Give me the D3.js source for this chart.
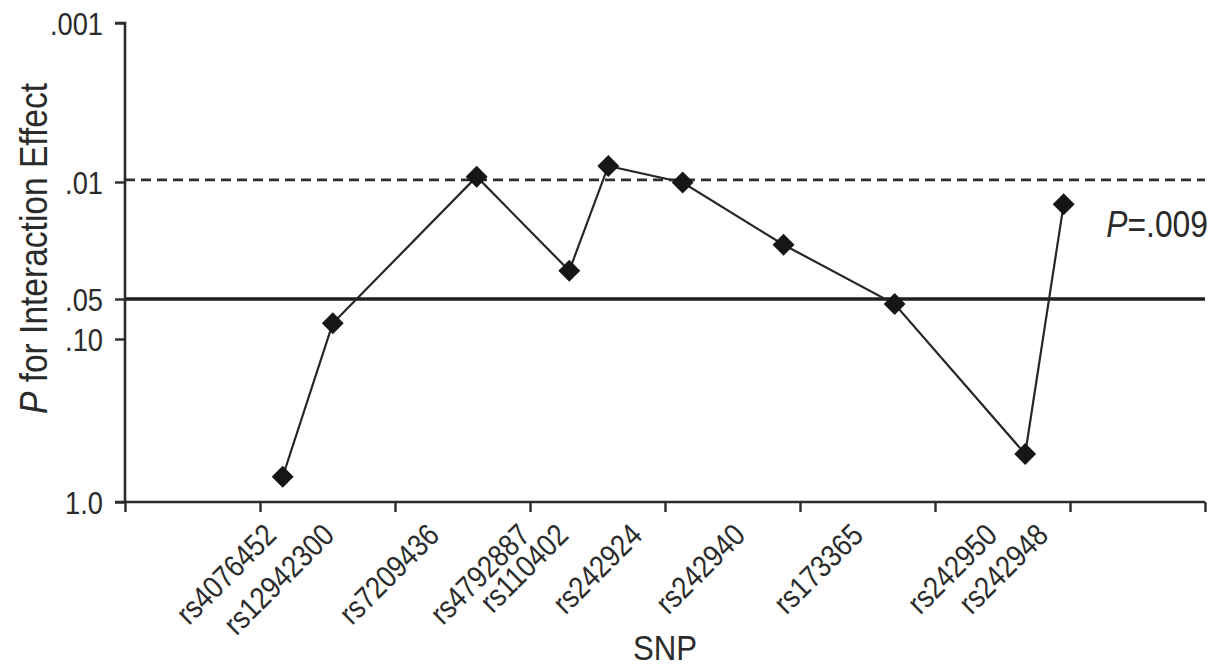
<!DOCTYPE html>
<html>
<head>
<meta charset="utf-8">
<script src="https://cdn.jsdelivr.net/npm/d3@7"></script>
<style>
  html, body { margin: 0; padding: 0; background: #fff; }
  svg { display: block; }
  text { font-family: "Liberation Sans", Arimo, Arial, sans-serif; fill: #2b2b2b; }
</style>
</head>
<body>
<svg id="chart" width="1223" height="668"></svg>
<script>
// ---- data ----
const snps = ["rs4076452", "rs12942300", "rs7209436", "rs4792887", "rs110402",
              "rs242924", "rs242940", "rs173365", "rs242950", "rs242948"];
// relative position of each SNP along the axis (axis units 0..8)
const snpPos = [1.168, 1.539, 2.605, 3.291, 3.580, 4.131, 4.878, 5.701, 6.668, 6.953];
// where each SNP name sits along the axis (axis units)
const labelPos = [1.119, 1.548, 2.326, 3.000, 3.281, 3.830, 4.593, 5.467, 6.459, 6.837];
// P value for interaction effect
const pValues = [0.700, 0.0762, 0.00926, 0.0339, 0.00793, 0.01007, 0.0237, 0.0546, 0.5075, 0.01359];
const yTickValues = [1.0, 0.10, 0.05, 0.01, 0.001];
const yTickLabels = ["1.0", ".10", ".05", ".01", ".001"];
const xTickValues = [0, 1, 2, 3, 4, 5, 6, 7, 8];
const sigLine = 0.05;          // solid line
const adjustedLine = 0.0097;   // dashed line (labelled P = .009)
const adjustedLabel = ".009";

// ---- layout ----
const svg = d3.select("#chart");
const x = d3.scaleLinear().domain([0, 8]).range([125, 1205]);
const y = d3.scaleLog().domain([1.0, 0.10, 0.05, 0.01, 0.001]).range([502, 339, 299, 182, 23]);

const ink = "#2b2b2b";
const SX = 0.86; // condensed look

// reference lines
svg.append("line")
  .attr("x1", x(0)).attr("x2", x(8))
  .attr("y1", y(adjustedLine)).attr("y2", y(adjustedLine))
  .attr("stroke", "#2e2e2e").attr("stroke-width", 2.8)
  .attr("stroke-dasharray", "10,6");

svg.append("line")
  .attr("x1", x(0)).attr("x2", x(8))
  .attr("y1", y(sigLine)).attr("y2", y(sigLine))
  .attr("stroke", "#1e1e1e").attr("stroke-width", 3.4);

// axes
const yAxis = d3.axisLeft(y)
  .tickValues(yTickValues)
  .tickFormat((d, i) => yTickLabels[i])
  .tickSize(10).tickPadding(12);
const gy = svg.append("g").attr("transform", `translate(${x(0)},0)`).call(yAxis);
gy.select(".domain").attr("d", `M-10,${y(0.001)}H0V${y(1)}`);

const xAxis = d3.axisBottom(x)
  .tickValues(xTickValues)
  .tickFormat("")
  .tickSize(10);
const gx = svg.append("g").attr("transform", `translate(0,${y(1)})`).call(xAxis);
gx.select(".domain").attr("d", `M${x(0) - 10},0H${x(8)}`);

[gx, gy].forEach(g => {
  g.selectAll(".domain").attr("stroke", ink).attr("stroke-width", 2.6).attr("fill", "none");
  g.selectAll(".tick line").attr("stroke", ink).attr("stroke-width", 2.4);
});
gy.selectAll(".tick text")
  .style("font-size", "31px")
  .attr("fill", ink)
  .attr("x", -22 / 0.88)
  .attr("transform", "scale(0.88,1)")
  .attr("dy", "0.36em");

// SNP labels
svg.append("g").selectAll("text")
  .data(snps)
  .join("text")
  .attr("transform", (d, i) => `translate(${x(labelPos[i]) + 2},${y(1) + 35}) rotate(-45) scale(${SX},1)`)
  .attr("text-anchor", "end")
  .style("font-size", "31px")
  .text(d => d);

// series line
const pts = snps.map((s, i) => ({ s, xv: snpPos[i], p: pValues[i] }));
svg.append("path")
  .datum(pts)
  .attr("fill", "none")
  .attr("stroke", "#262626")
  .attr("stroke-width", 2.2)
  .attr("d", d3.line().x(d => x(d.xv)).y(d => y(d.p)));

// diamonds
svg.append("g").selectAll("path")
  .data(pts)
  .join("path")
  .attr("transform", d => `translate(${x(d.xv)},${y(d.p)}) rotate(45)`)
  .attr("d", d3.symbol().type(d3.symbolSquare).size(240))
  .attr("fill", "#161616");

// annotation
const ann = svg.append("text")
  .attr("transform", `translate(${x(8) + 3},${y(adjustedLine) + 57}) scale(0.86,1)`)
  .attr("text-anchor", "end")
  .style("font-size", "37px");
ann.append("tspan").attr("font-style", "italic").text("P");
ann.append("tspan").text("=" + adjustedLabel);

// axis titles
svg.append("text")
  .attr("transform", `translate(${x(4)},660) scale(0.89,1)`)
  .attr("text-anchor", "middle")
  .style("font-size", "35px")
  .text("SNP");

const yt = svg.append("text")
  .attr("transform", `translate(47,${(y(1) + y(0.001)) / 2 - 14}) rotate(-90) scale(0.86,1)`)
  .attr("text-anchor", "middle")
  .style("font-size", "39px");
yt.append("tspan").attr("font-style", "italic").text("P");
yt.append("tspan").text(" for Interaction Effect");
</script>
</body>
</html>
